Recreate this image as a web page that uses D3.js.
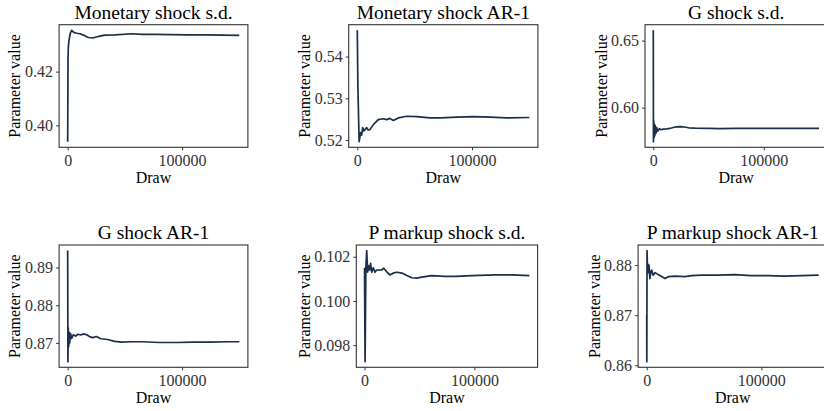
<!DOCTYPE html>
<html>
<head>
<meta charset="utf-8">
<script src="https://cdn.jsdelivr.net/npm/d3@7"></script>
<style>
  body { margin: 0; background: #fff; }
  svg { display: block; }
  text { font-family: "Liberation Serif", "DejaVu Serif", serif; }
</style>
</head>
<body>
<div id="chart"></div>
<script>
// panel titles
const titles = ['Monetary shock s.d.', 'Monetary shock AR-1', 'G shock s.d.',
  'G shock AR-1', 'P markup shock s.d.', 'P markup shock AR-1'];

// running means of the draws
const drawsMonSd = [0, 300, 600, 1200, 2300, 3500, 5300, 7900, 10800, 13700, 18000, 22500, 27000,
  32500, 41500, 56000, 65000, 76000, 90000, 105000, 120000, 135000, 150000];
const valsMonSd = [0.3939, 0.4250, 0.4293, 0.4318, 0.4343, 0.4354, 0.4346, 0.4343, 0.4341, 0.4336,
  0.4327, 0.4326, 0.4331, 0.4336, 0.4337, 0.4341, 0.4339, 0.4339, 0.4338, 0.4337, 0.4337, 0.4336, 0.4335];

const drawsMonAr = [0, 500, 1600, 2900, 3800, 4700, 5700, 6700, 8100, 9500, 11000, 14000, 18300, 22700,
  25600, 28500, 31400, 35800, 43100, 51800, 63500, 72300, 86900, 101500, 116000, 130600, 150000];
const valsMonAr = [0.5463, 0.5329, 0.5196, 0.5218, 0.5212, 0.5230, 0.5222, 0.5225, 0.5230, 0.5224,
  0.5225, 0.5237, 0.5249, 0.5251, 0.5249, 0.5252, 0.5247, 0.5253, 0.5257, 0.5256, 0.5253, 0.5253,
  0.5255, 0.5256, 0.5255, 0.5253, 0.5254];

const drawsGSd = [0, 150, 400, 700, 1000, 1400, 1900, 2500, 3200, 4000, 5500, 7000, 9000, 12000, 15000,
  18000, 21000, 25000, 28000, 32000, 38000, 50000, 60000, 75000, 90000, 110000, 130000, 150000];
const valsGSd = [0.6577, 0.5746, 0.5905, 0.5775, 0.5880, 0.5790, 0.5865, 0.5810, 0.5850, 0.5825,
  0.5843, 0.5835, 0.5840, 0.5842, 0.5845, 0.5852, 0.5857, 0.5858, 0.5856, 0.5850, 0.5847, 0.5846,
  0.5844, 0.5846, 0.5845, 0.5845, 0.5846, 0.5846];

const drawsGAr = [0, 200, 500, 900, 1300, 1800, 2500, 3500, 5000, 7000, 9000, 11500, 14000, 17000,
  19500, 22000, 25000, 29000, 35000, 41000, 47000, 55000, 65000, 80000, 95000, 110000, 125000, 140000, 150000];
const valsGAr = [0.8945, 0.8650, 0.8740, 0.8690, 0.8728, 0.8700, 0.8725, 0.8712, 0.8722, 0.8718,
  0.8723, 0.8721, 0.8724, 0.8721, 0.8716, 0.8714, 0.8717, 0.8711, 0.8709, 0.8704, 0.8702, 0.8703,
  0.8703, 0.8701, 0.8701, 0.8702, 0.8702, 0.8703, 0.8703];

const drawsPSd = [0, 200, 500, 1200, 2000, 2800, 3500, 4500, 5500, 6500, 8000, 9500, 11000, 13000,
  15500, 17500, 20000, 23000, 26500, 29500, 34000, 38500, 43000, 47500, 52000, 61000, 73000, 83000,
  98000, 119000, 134000, 150000];
const valsPSd = [0.10150, 0.09950, 0.09725, 0.10150, 0.10228, 0.10130, 0.10160, 0.10140, 0.10170,
  0.10130, 0.10150, 0.10130, 0.10140, 0.10140, 0.10140, 0.10148, 0.10133, 0.10118, 0.10127, 0.10130,
  0.10126, 0.10115, 0.10105, 0.10103, 0.10108, 0.10115, 0.10111, 0.10111, 0.10115, 0.10118, 0.10118, 0.10115];

const drawsPAr = [0, 100, 300, 700, 1000, 1500, 2000, 2800, 3500, 4300, 5500, 7300, 10000, 13000, 16000,
  19000, 24700, 33400, 39200, 48000, 62000, 77000, 91000, 106000, 120000, 135000, 150000];
const valsPAr = [0.8700, 0.8607, 0.8829, 0.8790, 0.8802, 0.8785, 0.8800, 0.8773, 0.8785, 0.8790,
  0.8780, 0.8785, 0.8781, 0.8777, 0.8773, 0.8777, 0.8778, 0.8777, 0.8779, 0.8780, 0.8780, 0.8781,
  0.8779, 0.8779, 0.8778, 0.8779, 0.8780];

// tick labels
const xTicks = [0, 100000];
const yTicksMonSd = [0.40, 0.42];
const yTicksMonAr = [0.52, 0.53, 0.54];
const yTicksGSd = [0.60, 0.65];
const yTicksGAr = [0.87, 0.88, 0.89];
const yTicksPSd = [0.098, 0.100, 0.102];
const yTicksPAr = [0.86, 0.87, 0.88];

const series = [
  { draws: drawsMonSd, vals: valsMonSd, ticks: yTicksMonSd, fmt: '.2f' },
  { draws: drawsMonAr, vals: valsMonAr, ticks: yTicksMonAr, fmt: '.2f' },
  { draws: drawsGSd, vals: valsGSd, ticks: yTicksGSd, fmt: '.2f' },
  { draws: drawsGAr, vals: valsGAr, ticks: yTicksGAr, fmt: '.2f' },
  { draws: drawsPSd, vals: valsPSd, ticks: yTicksPSd, fmt: '.3f' },
  { draws: drawsPAr, vals: valsPAr, ticks: yTicksPAr, fmt: '.2f' }
];

// panel boxes (layout); yt = offset of the y axis title from the panel
const boxes = [
  { x: 59.1, y: 24.7, w: 188.8, h: 122.6, yt: 39 },
  { x: 348.7, y: 24.7, w: 189.2, h: 122.6, yt: 39 },
  { x: 645.0, y: 24.7, w: 182.3, h: 122.6, yt: 38.5 },
  { x: 59.1, y: 245, w: 188.8, h: 122.3, yt: 39 },
  { x: 356.3, y: 245, w: 181.3, h: 122.3, yt: 46.5 },
  { x: 638.1, y: 245, w: 189.2, h: 122.3, yt: 38.5 }
];

const width = 824;
const height = 411;
const lineColor = '#1b2e4b';

const svg = d3.select('#chart')
  .append('svg')
  .attr('width', width)
  .attr('height', height);

// ggplot-style 5% expansion
function expand(ext) {
  const pad = (ext[1] - ext[0]) * 0.05;
  return [ext[0] - pad, ext[1] + pad];
}

series.forEach((s, i) => {
  const b = boxes[i];
  const pts = s.draws.map((d, j) => ({ draw: d, val: s.vals[j] }));

  const x = d3.scaleLinear()
    .domain(expand(d3.extent(s.draws)))
    .range([0, b.w]);
  const y = d3.scaleLinear()
    .domain(expand(d3.extent(s.vals)))
    .range([b.h, 0]);

  const g = svg.append('g')
    .attr('transform', `translate(${b.x},${b.y})`);

  g.append('rect')
    .attr('width', b.w)
    .attr('height', b.h)
    .attr('fill', '#fff')
    .attr('stroke', '#333')
    .attr('stroke-width', 1.1);

  const line = d3.line()
    .x(d => x(d.draw))
    .y(d => y(d.val));

  g.append('path')
    .datum(pts)
    .attr('d', line)
    .attr('fill', 'none')
    .attr('stroke', lineColor)
    .attr('stroke-width', 1.7)
    .attr('stroke-linejoin', 'round');

  // axes
  const yAxis = g.append('g')
    .call(d3.axisLeft(y).tickValues(s.ticks).tickFormat(d3.format(s.fmt))
      .tickSize(3).tickSizeOuter(0).tickPadding(3));
  const xAxis = g.append('g')
    .attr('transform', `translate(0,${b.h})`)
    .call(d3.axisBottom(x).tickValues(xTicks).tickFormat(d3.format('d'))
      .tickSize(3).tickSizeOuter(0).tickPadding(4.5));

  [yAxis, xAxis].forEach(ax => {
    ax.select('.domain').remove();
    ax.selectAll('line').attr('stroke', '#333');
    ax.selectAll('text')
      .attr('fill', '#333')
      .style('font-size', '16px')
      .style('font-family', '"Liberation Serif", serif');
  });

  // titles
  g.append('text')
    .attr('x', b.w / 2)
    .attr('y', -5.7)
    .attr('text-anchor', 'middle')
    .style('font-size', '19.5px')
    .attr('fill', '#000')
    .text(titles[i]);

  g.append('text')
    .attr('x', x(75000))
    .attr('y', b.h + 36)
    .attr('text-anchor', 'middle')
    .style('font-size', '16px')
    .attr('fill', '#000')
    .text('Draw');

  g.append('text')
    .attr('transform', `translate(${-b.yt},${b.h / 2}) rotate(-90)`)
    .attr('text-anchor', 'middle')
    .style('font-size', '16px')
    .attr('fill', '#000')
    .text('Parameter value');
});
</script>
</body>
</html>
